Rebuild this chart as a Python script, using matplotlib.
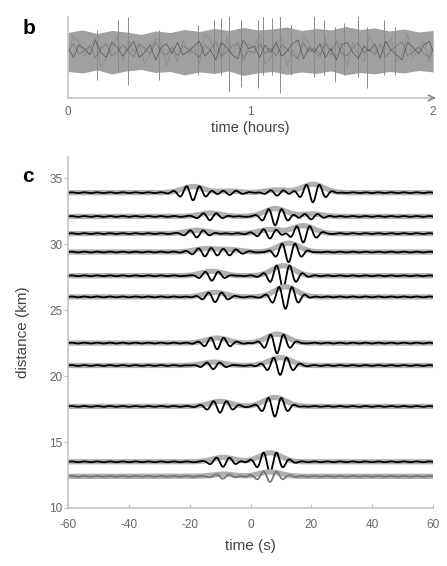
import numpy as np
import matplotlib
matplotlib.use("Agg")
import matplotlib.pyplot as plt

plt.rcParams['font.family'] = ['Liberation Sans', 'DejaVu Sans']
plt.rcParams['axes.unicode_minus'] = False

# ---- panel b: 2 hours of ambient noise ----
band_h = [0.0, 0.08, 0.16, 0.24, 0.32, 0.40, 0.48, 0.56, 0.64, 0.72, 0.80, 0.88, 0.96,
          1.04, 1.12, 1.20, 1.28, 1.36, 1.44, 1.52, 1.60, 1.68, 1.76, 1.84, 1.92, 2.0]
band_top = [0.70, 0.80, 0.66, 0.78, 0.72, 0.62, 0.76, 0.70, 0.82, 0.74, 0.86, 0.78, 0.90,
            0.80, 0.84, 0.92, 0.78, 0.86, 0.80, 0.94, 0.82, 0.88, 0.76, 0.84, 0.72, 0.78]
band_bot = [-0.86, -0.92, -0.80, -0.96, -0.84, -0.78, -0.90, -0.86, -1.00, -0.88, -0.94, -0.84, -1.02,
            -0.92, -0.86, -0.98, -0.88, -0.94, -0.84, -1.00, -0.90, -0.96, -0.86, -0.92, -0.82, -0.88]

mid_h = [0.00, 0.03, 0.06, 0.09, 0.12, 0.15, 0.18, 0.21, 0.24, 0.27, 0.30, 0.33, 0.36, 0.39,
         0.42, 0.45, 0.48, 0.51, 0.54, 0.57, 0.60, 0.63, 0.66, 0.69, 0.72, 0.75, 0.78, 0.81,
         0.84, 0.87, 0.90, 0.93, 0.96, 0.99, 1.02, 1.05, 1.08, 1.11, 1.14, 1.17, 1.20, 1.23,
         1.26, 1.29, 1.32, 1.35, 1.38, 1.41, 1.44, 1.47, 1.50, 1.53, 1.56, 1.59, 1.62, 1.65,
         1.68, 1.71, 1.74, 1.77, 1.80, 1.83, 1.86, 1.89, 1.92, 1.95, 1.98, 2.00]
mid_val = [0.1, -0.3, 0.2, 0.05, -0.2, 0.4, -0.1, -0.3, 0.3, 0.1, -0.25, 0.05, 0.35, -0.3,
           -0.1, 0.2, -0.4, 0.1, 0.25, -0.15, 0.3, -0.2, -0.05, 0.15, 0.35, -0.25, 0.0, -0.4,
           0.3, 0.1, -0.2, -0.35, 0.4, 0.05, 0.15, -0.3, 0.2, -0.1, 0.3, -0.25, -0.05, 0.25,
           0.4, -0.35, 0.1, -0.1, 0.25, -0.3, 0.05, -0.4, 0.2, 0.3, -0.1, -0.35, 0.15, -0.05,
           0.25, -0.3, 0.35, 0.0, -0.2, -0.4, 0.3, 0.1, -0.15, 0.2, 0.35, -0.1]

spike_h = [0.16, 0.275, 0.33, 0.50, 0.71, 0.80, 0.84, 0.88, 0.945, 1.04, 1.07, 1.12, 1.16,
           1.22, 1.35, 1.40, 1.46, 1.51, 1.59, 1.64, 1.73, 1.79]
spike_top = [0.8, 1.2, 1.33, 0.8, 1.0, 1.2, 1.27, 1.48, 1.2, 1.2, 1.47, 1.27, 1.6,
             1.0, 1.47, 1.2, 0.9, 1.07, 1.53, 0.9, 1.2, 0.93]
spike_bot = [-1.2, -0.9, -1.4, -1.2, -1.0, -0.9, -1.0, -1.68, -1.47, -1.53, -1.0, -1.0, -1.73,
             -1.0, -1.1, -1.0, -1.27, -1.0, -1.1, -1.53, -1.0, -1.0]

# ---- panel c: cross-correlation traces ----
distance = [33.9, 32.1, 30.8, 29.4, 27.6, 26.0, 22.5, 20.8, 17.7, 13.5, 12.4]
# wave packets per trace: (centre time s, amplitude km)
packets = [
    [(-18.9, 0.55), (-7.0, 0.15), (8.7, 0.25), (20.5, 0.75)],
    [(-13.3, 0.30), (8.1, 0.70), (20.0, 0.22)],
    [(-17.6, 0.30), (6.4, 0.35), (17.3, 0.70)],
    [(-15.0, 0.30), (-7.0, 0.22), (12.5, 0.80)],
    [(-12.7, 0.40), (10.7, 0.90)],
    [(-11.7, 0.40), (11.5, 0.90)],
    [(-11.0, 0.45), (8.7, 0.80)],
    [(-12.3, 0.30), (9.7, 0.70)],
    [(-10.0, 0.45), (8.0, 0.80)],
    [(-9.0, 0.40), (6.4, 0.80)],
    [(-9.0, 0.20), (6.4, 0.40)],
]
trace_color = ['k'] * 10 + ['#777777']
period = 4.4
width = 5.0

fig = plt.figure(figsize=(4.47, 5.66), dpi=100)
spine_c = '#c4c4c4'
tick_c = '#666666'

# panel b
axb = fig.add_axes([0.152, 0.827, 0.817, 0.143])
axb.fill_between(band_h, band_top, band_bot, color='#a0a0a0', lw=0)
axb.vlines(spike_h, spike_bot, spike_top, color='#8a8a8a', lw=0.7)
axb.plot(mid_h, mid_val, color='#333333', lw=0.5, alpha=0.7)
axb.plot(mid_h, [v * -0.8 for v in mid_val], color='#555555', lw=0.5, alpha=0.6)
axb.plot(mid_h, [v * 1.6 for v in mid_val[::-1]], color='#7a7a7a', lw=0.5, alpha=0.6)
axb.set_xlim(0, 2)
axb.set_ylim(-1.92, 1.32)
for s in ['top', 'right']:
    axb.spines[s].set_visible(False)
axb.spines['left'].set_color(spine_c)
axb.spines['bottom'].set_color(spine_c)
axb.spines['left'].set_linewidth(1.2)
axb.spines['bottom'].set_linewidth(1.2)
axb.set_yticks([])
axb.set_xticks([0, 1, 2])
axb.tick_params(axis='x', length=0, pad=6, labelsize=8.5, labelcolor=tick_c)
axb.annotate('', xy=(1.015, 0), xytext=(0.99, 0), xycoords='axes fraction',
             arrowprops=dict(arrowstyle='->', color='#888888', lw=1.2))
axb.set_xlabel('time (hours)', fontsize=10.5, color='#444444', labelpad=2)
fig.text(0.05, 0.967, 'b', fontsize=15, fontweight='bold', va='top')

# panel c
axc = fig.add_axes([0.152, 0.1025, 0.817, 0.620])
t = np.linspace(-60, 60, 1201)
for d, plist, col in zip(distance, packets, trace_color):
    sig = 0.03 * np.cos(2 * np.pi * t / 4.2)
    env = np.zeros_like(t)
    for c, a in plist:
        g = a * np.exp(-((t - c) / width) ** 2)
        sig = sig - g * np.cos(2 * np.pi * (t - c) / period)
        env = env + g
    axc.plot(t, d + 0.85 * env, color='#b0b0b0', lw=3.8, solid_capstyle='butt')
    axc.plot(t, d + sig, color=col, lw=1.3)
axc.set_xlim(-60, 60)
axc.set_ylim(10, 36.6)
axc.set_xticks([-60, -40, -20, 0, 20, 40, 60])
axc.set_yticks([10, 15, 20, 25, 30, 35])
for s in ['top', 'right']:
    axc.spines[s].set_visible(False)
axc.spines['left'].set_color(spine_c)
axc.spines['bottom'].set_color(spine_c)
axc.spines['left'].set_linewidth(1.2)
axc.spines['bottom'].set_linewidth(1.2)
axc.tick_params(axis='x', direction='in', length=3, color=spine_c, pad=8,
                labelsize=8.5, labelcolor=tick_c)
axc.tick_params(axis='y', direction='out', length=3, color=spine_c, pad=1,
                labelsize=8.5, labelcolor=tick_c)
axc.set_xlabel('time (s)', fontsize=11, color='#444444', labelpad=6)
axc.set_ylabel('distance (km)', fontsize=11, color='#444444', labelpad=14)
fig.text(0.05, 0.705, 'c', fontsize=15, fontweight='bold', va='top')

fig.savefig('out.png', dpi=100)
